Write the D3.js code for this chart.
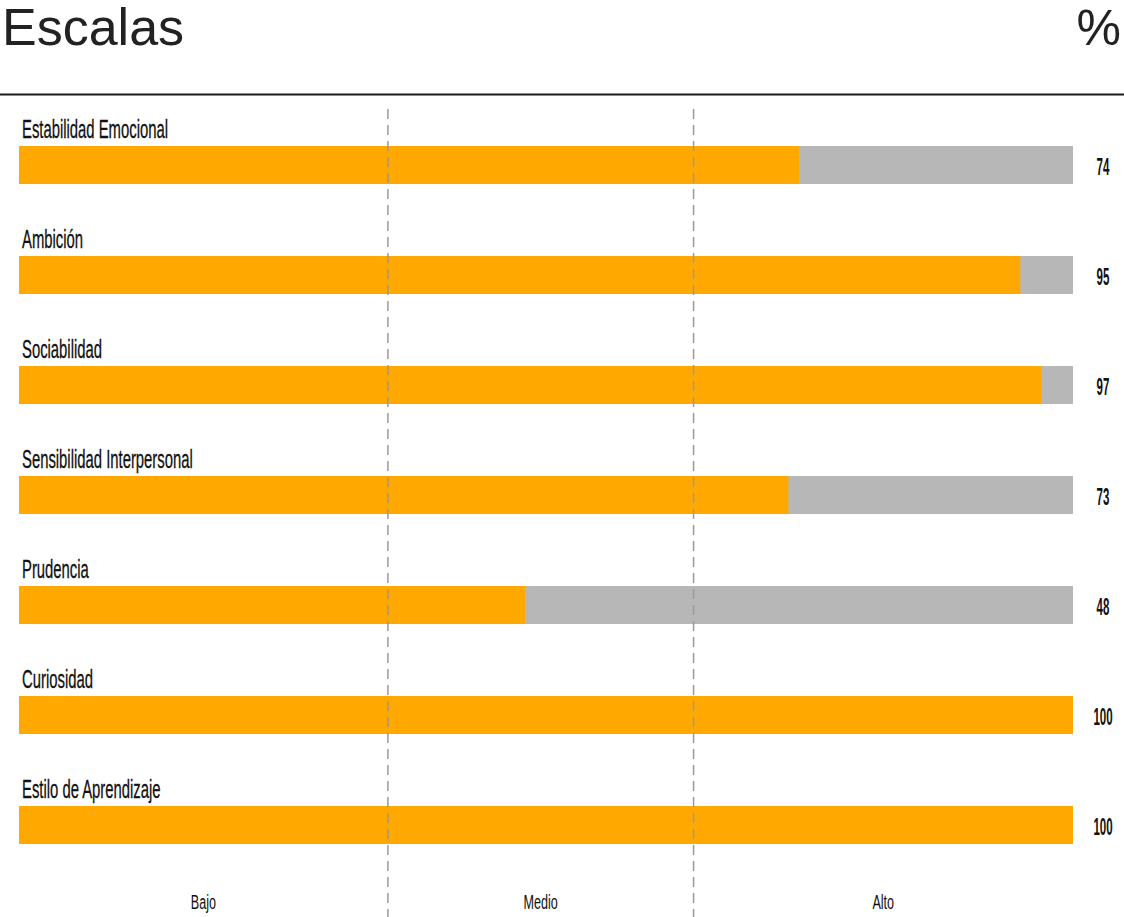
<!DOCTYPE html>
<html>
<head>
<meta charset="utf-8">
<script src="https://cdn.jsdelivr.net/npm/d3@7"></script>
<style>
  html, body { margin: 0; padding: 0; background: #fff; }
  svg { display: block; }
</style>
</head>
<body>
<svg id="chart" width="1124" height="917"></svg>
<script>
// Scale names and their percentile scores
const scales = [
  "Estabilidad Emocional",
  "Ambición",
  "Sociabilidad",
  "Sensibilidad Interpersonal",
  "Prudencia",
  "Curiosidad",
  "Estilo de Aprendizaje"
];
const scores = [74, 95, 97, 73, 48, 100, 100];

// Band limits (low / medium / high) and their names
const bandBreaks = [35, 64];
const bandNames = ["Bajo", "Medio", "Alto"];

const W = 1124, H = 917;
const svg = d3.select("#chart");
const font = "'Liberation Sans', Arial, sans-serif";

const x = d3.scaleLinear().domain([0, 100]).range([19, 1073]);
const rowStep = 110;
const firstBarTop = 146;
const barH = 38;
const y = d3.scaleBand()
  .domain(scales)
  .range([firstBarTop, firstBarTop + rowStep * scales.length])
  .paddingInner(0).paddingOuter(0);

// Header
svg.append("text")
  .attr("x", 2).attr("y", 45)
  .attr("font-family", font).attr("font-size", 52)
  .attr("fill", "#222")
  .text("Escalas");
svg.append("text")
  .attr("x", 1121).attr("y", 45)
  .attr("text-anchor", "end")
  .attr("font-family", font).attr("font-size", 50)
  .attr("fill", "#222")
  .text("%");
svg.append("line")
  .attr("x1", 0).attr("x2", W)
  .attr("y1", 94.5).attr("y2", 94.5)
  .attr("stroke", "#1a1a1a").attr("stroke-width", 2);

// Rows
const rows = svg.append("g").selectAll("g")
  .data(scales.map((s, i) => ({ name: s, value: scores[i] })))
  .join("g");

// Background track (full scale)
rows.append("rect")
  .attr("x", x(0))
  .attr("y", d => y(d.name))
  .attr("width", x(100) - x(0))
  .attr("height", barH)
  .attr("fill", "#b7b7b7");

// Score bar
rows.append("rect")
  .attr("x", x(0))
  .attr("y", d => y(d.name))
  .attr("width", d => x(d.value) - x(0))
  .attr("height", barH)
  .attr("fill", "#ffa800");

// Scale name above each bar
rows.append("text")
  .attr("transform", d => `translate(22,${y(d.name) - 8}) scale(0.594,1)`)
  .attr("font-family", font).attr("font-size", 25)
  .attr("fill", "#111")
  .attr("stroke", "#111").attr("stroke-width", 0.3)
  .text(d => d.name);

// Score value at the right
rows.append("text")
  .attr("transform", d => `translate(1103,${y(d.name) + 29}) scale(0.5,1)`)
  .attr("text-anchor", "middle")
  .attr("font-family", font).attr("font-size", 23).attr("font-weight", "bold")
  .attr("fill", "#111")
  .text(d => d.value);

// Band separators (dashed)
svg.append("g").selectAll("line")
  .data(bandBreaks)
  .join("line")
  .attr("x1", d => x(d)).attr("x2", d => x(d))
  .attr("y1", 109).attr("y2", H)
  .attr("stroke", "#9a9a9a")
  .attr("stroke-width", 1.5)
  .attr("stroke-dasharray", "10,6");

// Band names, centred in each band
const edges = [0, ...bandBreaks, 100];
svg.append("g").selectAll("text")
  .data(bandNames)
  .join("text")
  .attr("transform", (d, i) => `translate(${(x(edges[i]) + x(edges[i + 1])) / 2},909) scale(0.6,1)`)
  .attr("text-anchor", "middle")
  .attr("font-family", font).attr("font-size", 21)
  .attr("fill", "#111")
  .text(d => d);
</script>
</body>
</html>
